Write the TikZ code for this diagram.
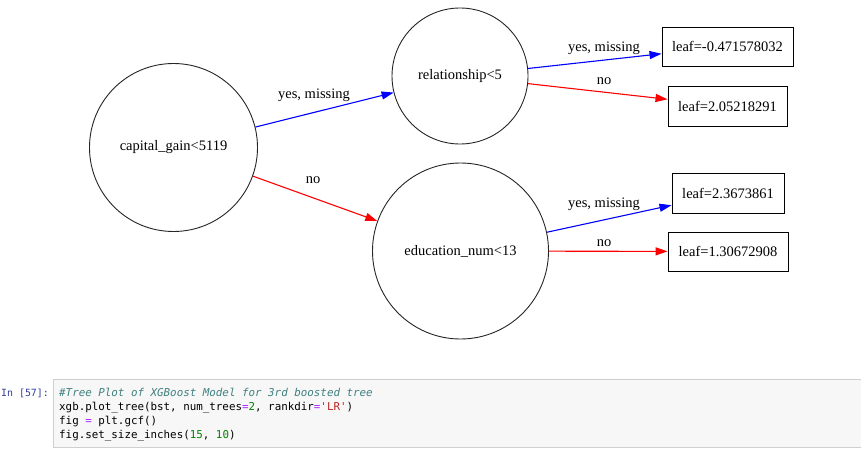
\documentclass[tikz,border=0pt]{standalone}
\usepackage{fontspec}
\setmainfont{Liberation Serif}
\setmonofont{DejaVu Sans Mono}
\usetikzlibrary{arrows.meta}
\definecolor{cellbg}{HTML}{F7F7F7}
\definecolor{cellborder}{HTML}{CFCFCF}
\definecolor{promptblue}{HTML}{303F9F}
\definecolor{cmt}{HTML}{408080}
\definecolor{opc}{HTML}{AA22FF}
\definecolor{numc}{HTML}{008000}
\definecolor{strc}{HTML}{BA2121}
\definecolor{edgeblue}{HTML}{0000FF}
\definecolor{edgered}{HTML}{FF0000}
\tikzset{
  splitnode/.style={circle, draw=black!85, line width=0.9pt, inner sep=0pt, font=\fontsize{14.5}{16}\selectfont},
  leafnode/.style={rectangle, draw=black, line width=0.95pt, inner sep=0pt, font=\fontsize{14.5}{16}\selectfont},
  yesedge/.style={draw=edgeblue, line width=1.1pt, -{Triangle[length=12pt,width=8pt]}},
  noedge/.style={draw=edgered, line width=1.1pt, -{Triangle[length=12pt,width=8pt]}},
  elabel/.style={font=\fontsize{14.5}{16}\selectfont, inner sep=0pt},
  codeline/.style={anchor=base west, inner sep=0pt, font=\ttfamily\fontsize{10.85}{12}\selectfont}
}
\begin{document}
\begin{tikzpicture}[x=1pt,y=-1pt]
\useasboundingbox (0,0) rectangle (861,460);
\fill[white] (0,0) rectangle (861,460);
% nodes
\node[splitnode, minimum size=168pt] (c1) at (173.5,147.5) {capital\_gain<5119};
\node[splitnode, minimum size=136pt] (c2) at (460,76) {relationship<5};
\node[splitnode, minimum size=176pt] (c3) at (460.5,251) {education\_num<13};
\node[leafnode, minimum width=131pt, minimum height=39pt] (l1) at (727.5,46.5) {leaf=-0.471578032};
\node[leafnode, minimum width=119pt, minimum height=40pt] (l2) at (727.5,106) {leaf=2.05218291};
\node[leafnode, minimum width=112pt, minimum height=40pt] (l3) at (728,193) {leaf=2.3673861};
\node[leafnode, minimum width=120pt, minimum height=39pt] (l4) at (728,251.5) {leaf=1.30672908};
% edges
\draw[yesedge] (c1) -- (c2);
\draw[noedge] (c1) -- (c3);
\draw[yesedge] (c2) -- (l1);
\draw[noedge] (c2) -- (l2);
\draw[yesedge] (c3) -- (l3);
\draw[noedge] (c3) -- (l4);
% edge labels
\node[elabel] (t1) at (314,95) {yes, missing};
\node[elabel] (t2) at (313,180) {no};
\node[elabel] (t3) at (604,48) {yes, missing};
\node[elabel] (t4) at (604,81) {no};
\node[elabel] (t5) at (604,204) {yes, missing};
\node[elabel] (t6) at (604,243) {no};
% code cell
\draw[fill=cellbg, draw=cellborder, line width=1pt] (53,379) rectangle (870,447);
\node[anchor=base west, inner sep=0pt, font=\ttfamily\fontsize{9.9}{12}\selectfont, text=promptblue] (prompt) at (1,396.5) {In [57]:};
\node[codeline, text=cmt] (k1) at (59,396.5) {\itshape\#Tree Plot of XGBoost Model for 3rd boosted tree};
\node[codeline] (k2) at (59,410.5) {xgb.plot\_tree(bst, num\_trees\textcolor{opc}{=}\textcolor{numc}{2}, rankdir\textcolor{opc}{=}\textcolor{strc}{'LR'})};
\node[codeline] (k3) at (59,424.5) {fig \textcolor{opc}{=} plt.gcf()};
\node[codeline] (k4) at (59,438.5) {fig.set\_size\_inches(\textcolor{numc}{15}, \textcolor{numc}{10})};
\end{tikzpicture}
\end{document}
